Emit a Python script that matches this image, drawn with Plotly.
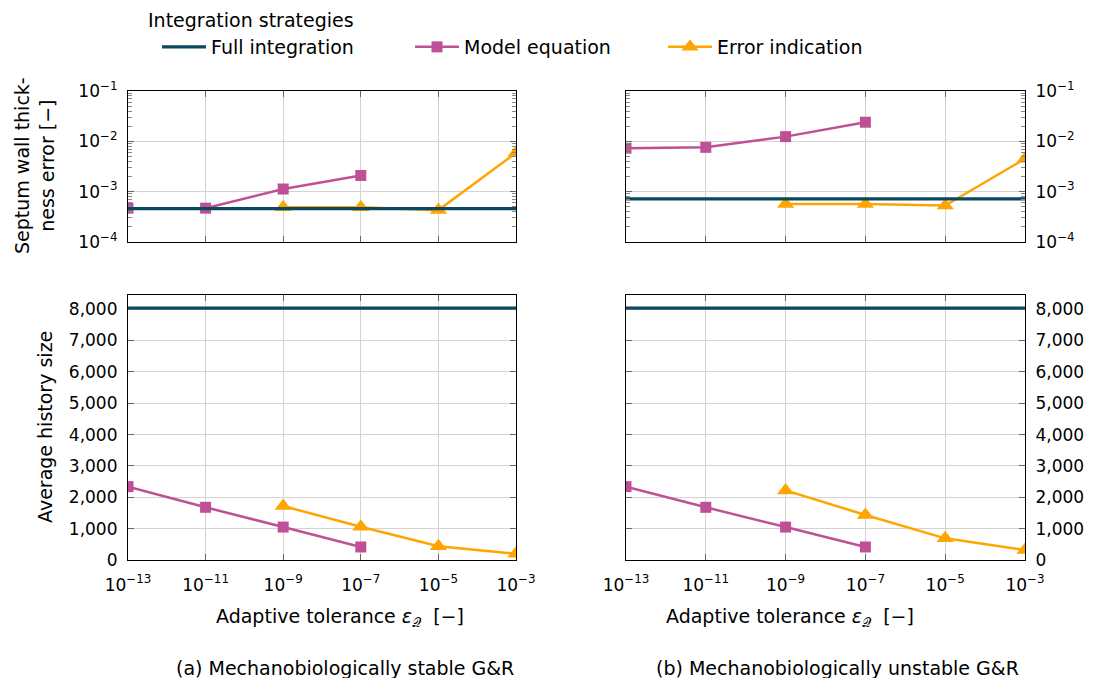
import plotly.graph_objects as go
from plotly.subplots import make_subplots

# ---------------- data ----------------
tol_all = [1e-13, 1e-11, 1e-9, 1e-7, 1e-5, 1e-3]
tol_model = [1e-13, 1e-11, 1e-9, 1e-7]
tol_error = [1e-9, 1e-7, 1e-5, 1e-3]

# (a) stable
err_full_a = [4.6e-4] * 6
err_model_a = [4.7e-4, 4.7e-4, 1.13e-3, 2.1e-3]
err_error_a = [4.9e-4, 4.9e-4, 4.3e-4, 5.9e-3]
hist_full_a = [8030] * 6
hist_model_a = [2340, 1680, 1050, 415]
hist_error_a = [1720, 1060, 440, 200]

# (b) unstable
err_full_b = [7.2e-4] * 6
err_model_b = [7.3e-3, 7.6e-3, 1.24e-2, 2.4e-2]
err_error_b = [5.7e-4, 5.7e-4, 5.3e-4, 4.5e-3]
hist_full_b = [8030] * 6
hist_model_b = [2340, 1680, 1050, 415]
hist_error_b = [2220, 1436, 690, 320]

x_tickvals = [1e-13, 1e-11, 1e-9, 1e-7, 1e-5, 1e-3]
x_ticktext = ["10<sup>\u221213</sup>", "10<sup>\u221211</sup>", "10<sup>\u22129</sup>",
              "10<sup>\u22127</sup>", "10<sup>\u22125</sup>", "10<sup>\u22123</sup>"]
err_tickvals = [1e-4, 1e-3, 1e-2, 1e-1]
err_ticktext = ["10<sup>\u22124</sup>", "10<sup>\u22123</sup>", "10<sup>\u22122</sup>", "10<sup>\u22121</sup>"]
hist_tickvals = [0, 1000, 2000, 3000, 4000, 5000, 6000, 7000, 8000]
hist_ticktext = ["0", "1,000", "2,000", "3,000", "4,000", "5,000", "6,000", "7,000", "8,000"]

names = ["Full integration", "Model equation", "Error indication"]

# ---------------- style ----------------
C_FULL = "#0b4862"
C_MODEL = "#c05096"
C_ERR = "#ffa500"
FONT = "DejaVu Sans"
OFF = 8                      # page body margin
W, H = 1104 - 2 * OFF, 686 - 2 * OFF

fig = make_subplots(rows=2, cols=2)

def add_panel(row, col, xf, yf, xm, ym, xe, ye, show):
    fig.add_trace(go.Scatter(x=xe, y=ye, mode="lines+markers", name=names[2],
                             line=dict(color=C_ERR, width=2.5),
                             marker=dict(symbol="triangle-up", size=15, color=C_ERR),
                             showlegend=show, legendrank=3), row=row, col=col)
    fig.add_trace(go.Scatter(x=xm, y=ym, mode="lines+markers", name=names[1],
                             line=dict(color=C_MODEL, width=2.5),
                             marker=dict(symbol="square", size=11, color=C_MODEL),
                             showlegend=show, legendrank=2), row=row, col=col)
    fig.add_trace(go.Scatter(x=xf, y=yf, mode="lines", name=names[0],
                             line=dict(color=C_FULL, width=3.2),
                             showlegend=show, legendrank=1), row=row, col=col)

add_panel(1, 1, tol_all, err_full_a, tol_model, err_model_a, tol_error, err_error_a, True)
add_panel(1, 2, tol_all, err_full_b, tol_model, err_model_b, tol_error, err_error_b, False)
add_panel(2, 1, tol_all, hist_full_a, tol_model, hist_model_a, tol_error, hist_error_a, False)
add_panel(2, 2, tol_all, hist_full_b, tol_model, hist_model_b, tol_error, hist_error_b, False)

def fx(x):
    return (x - OFF) / W

def fy(y):
    return 1 - (y - OFF) / H

dom_x_left = [fx(128), fx(516)]
dom_x_right = [fx(626), fx(1025)]
dom_y_top = [fy(242), fy(91)]
dom_y_bot = [fy(560), fy(295)]

TICKFONT = dict(family=FONT, size=17, color="#000000")

axis_common = dict(showline=True, linecolor="#000000", linewidth=1.2, mirror="ticks",
                   ticks="inside", tickcolor="#666666", ticklen=6, automargin=False,
                   showgrid=True, gridcolor="#d3d3d3", gridwidth=1, zeroline=False,
                   tickfont=TICKFONT)

xcommon = dict(axis_common, type="log", range=[-13, -3],
               tickvals=x_tickvals, ticktext=x_ticktext)

fig.update_layout(
    xaxis=dict(xcommon, domain=dom_x_left, showticklabels=False),
    xaxis2=dict(xcommon, domain=dom_x_right, showticklabels=False),
    xaxis3=dict(xcommon, domain=dom_x_left, ticklabelstandoff=9),
    xaxis4=dict(xcommon, domain=dom_x_right, ticklabelstandoff=9),
)

ycommon_err = dict(axis_common, type="log", range=[-4, -1],
                   tickvals=err_tickvals, ticktext=err_ticktext, ticklabelstandoff=6,
                   minor=dict(ticks="inside", ticklen=4, tickcolor="#888888",
                              dtick="D1", showgrid=False))
ycommon_hist = dict(axis_common, range=[0, 8450], ticklabelstandoff=6,
                    tickvals=hist_tickvals, ticktext=hist_ticktext)

fig.update_layout(
    yaxis=dict(ycommon_err, domain=dom_y_top),
    yaxis2=dict(ycommon_err, domain=dom_y_top, side="right"),
    yaxis3=dict(ycommon_hist, domain=dom_y_bot),
    yaxis4=dict(ycommon_hist, domain=dom_y_bot, side="right"),
)

fig.update_layout(
    width=W, height=H,
    margin=dict(l=0, r=0, t=0, b=0),
    paper_bgcolor="white", plot_bgcolor="white",
    font=dict(family=FONT, size=19, color="#000000"),
    legend=dict(orientation="h", x=fx(157), y=fy(28), xanchor="left", yanchor="top",
                font=dict(family=FONT, size=19), itemwidth=44,
                entrywidth=194, entrywidthmode="pixels",
                bgcolor="rgba(0,0,0,0)", traceorder="normal"),
)

def ann(text, x, y, size=19, angle=0):
    fig.add_annotation(text=text, x=fx(x), y=fy(y), xref="paper", yref="paper",
                       showarrow=False, textangle=angle, xanchor="center", yanchor="middle",
                       font=dict(family=FONT, size=size, color="#000000"))

fig.add_annotation(text="Integration strategies", x=fx(146), y=fy(20), xref="paper", yref="paper",
                   showarrow=False, xanchor="left", yanchor="middle",
                   font=dict(family=FONT, size=19, color="#000000"))
ann("Septum wall thick-<br>ness error [\u2212]", 34, 166, angle=-90)
ann("Average history size", 45, 427, angle=-90)
ann("Adaptive tolerance <i>\u03b5</i><sub>\U0001D4AC</sub>  [\u2212]", 340, 617)
ann("Adaptive tolerance <i>\u03b5</i><sub>\U0001D4AC</sub>  [\u2212]", 790, 617)
ann("(a) Mechanobiologically stable G&amp;R", 345, 668)
ann("(b) Mechanobiologically unstable G&amp;R", 837, 668)

fig.write_html("out.html")
